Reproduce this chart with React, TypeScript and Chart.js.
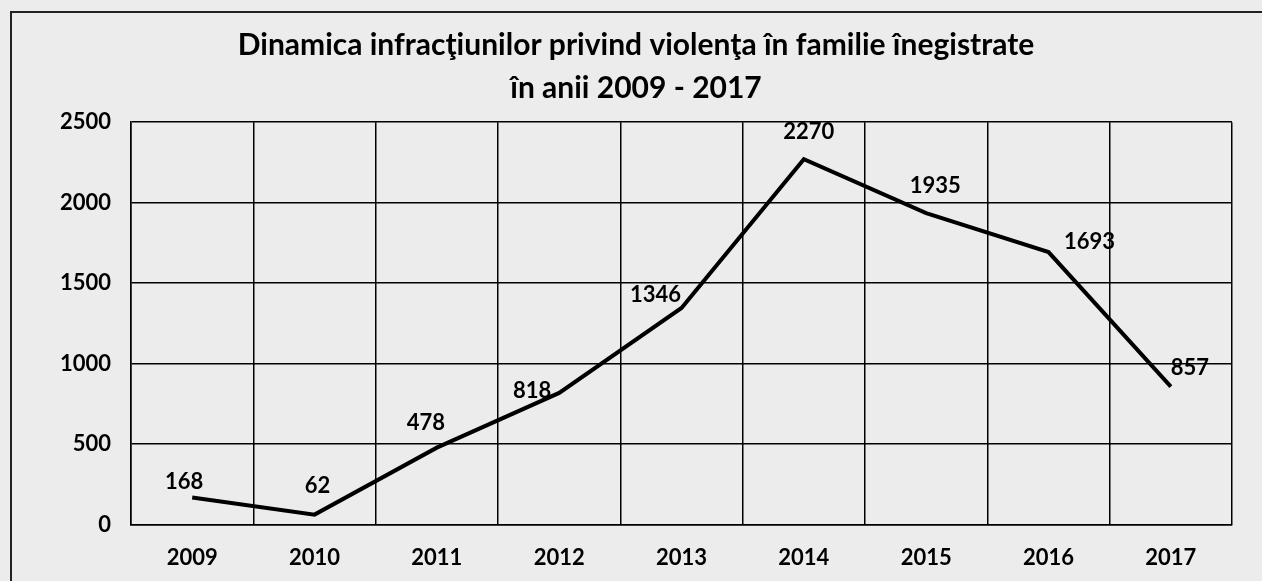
import React, { useEffect, useRef } from "react";
import { Chart, registerables } from "chart.js";

Chart.register(...registerables);

const years = ["2009", "2010", "2011", "2012", "2013", "2014", "2015", "2016", "2017"];
const cases = [168, 62, 478, 818, 1346, 2270, 1935, 1693, 857];
const yTicks = [0, 500, 1000, 1500, 2000, 2500];
const titleLines = [
  "Dinamica infracţiunilor privind violenţa în familie înegistrate",
  "în anii 2009 - 2017",
];
// label placement offsets (px) relative to each point
const labelDx = [-8, 3, -11, -27, -26, 5, 9, 41, 19];
const labelDy = [-16, -29, -25, -2, -13, -27, -27, -10, -19];

const FONT = "Lato, 'Open Sans', sans-serif";

const labelPlugin = {
  id: "pointLabels",
  afterDatasetsDraw(chart: any) {
    const ctx = chart.ctx;
    const meta = chart.getDatasetMeta(0);
    ctx.save();
    ctx.font = `bold 22px ${FONT}`;
    ctx.fillStyle = "#000";
    ctx.textAlign = "center";
    ctx.textBaseline = "middle";
    meta.data.forEach((pt: any, i: number) => {
      ctx.fillText(String(cases[i]), pt.x + labelDx[i], pt.y + labelDy[i]);
    });
    ctx.restore();
  },
};

export default function App() {
  const ref = useRef<HTMLCanvasElement>(null);
  useEffect(() => {
    document.body.style.margin = "0";
    const chart = new Chart(ref.current!, {
      type: "line",
      data: {
        labels: years,
        datasets: [
          {
            data: cases,
            borderColor: "#000",
            borderWidth: 4,
            pointRadius: 0,
            tension: 0,
            fill: false,
          },
        ],
      },
      options: {
        animation: false,
        responsive: false,
        maintainAspectRatio: false,
        layout: { padding: { left: 40, right: 30, top: 0, bottom: -10 } },
        plugins: {
          legend: { display: false },
          tooltip: { enabled: false },
          title: {
            display: true,
            text: titleLines,
            color: "#000",
            font: { family: FONT, size: 30, weight: "bold", lineHeight: 1.42 },
            padding: { top: 24, bottom: 13 },
          },
        },
        scales: {
          x: {
            offset: true,
            grid: { offset: true, color: "#000", lineWidth: 1.5, drawTicks: false },
            border: { color: "#000", width: 1.5 },
            ticks: {
              color: "#000",
              font: { family: FONT, size: 22, weight: "bold" },
              padding: 20,
            },
          },
          y: {
            min: 0,
            max: 2500,
            afterBuildTicks: (axis: any) => {
              axis.ticks = yTicks.map((v) => ({ value: v }));
            },
            grid: { color: "#000", lineWidth: 1.5, drawTicks: false },
            border: { color: "#000", width: 1.5 },
            ticks: {
              color: "#000",
              font: { family: FONT, size: 22, weight: "bold" },
              padding: 20,
              callback: (v: any) => String(v),
            },
          },
        },
      },
      plugins: [labelPlugin],
    });
    return () => chart.destroy();
  }, []);
  return (
    <div
      style={{
        width: 1262,
        height: 581,
        background: "#ececec",
        position: "relative",
        boxSizing: "border-box",
      }}
    >
      <div
        style={{
          position: "absolute",
          left: 10,
          top: 11,
          right: 0,
          bottom: 0,
          borderLeft: "2px solid #222",
          borderTop: "2px solid #222",
        }}
      />
      <canvas ref={ref} width={1262} height={581} style={{ position: "absolute", left: 0, top: 0 }} />
    </div>
  );
}
